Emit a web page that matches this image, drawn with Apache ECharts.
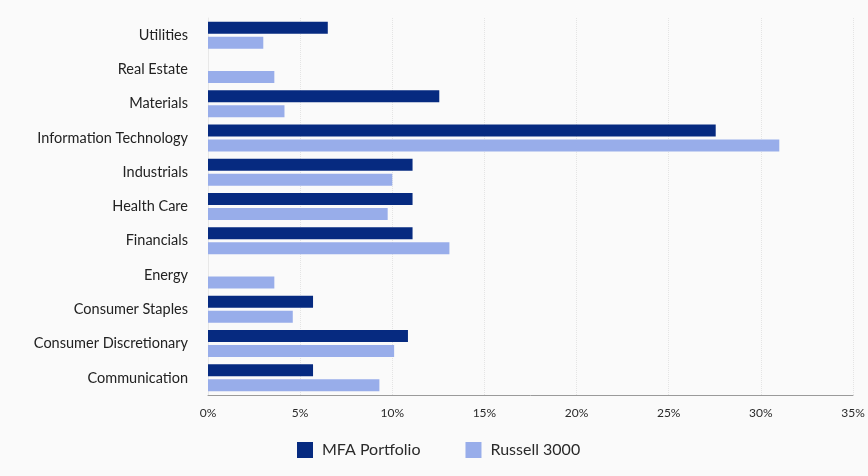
<!DOCTYPE html>
<html>
<head>
<meta charset="utf-8">
<script src="https://cdn.jsdelivr.net/npm/echarts@6/dist/echarts.min.js"></script>
<style>
  html, body { margin: 0; padding: 0; background: #fafafa; }
  #chart { width: 868px; height: 476px; }
</style>
</head>
<body>
<div id="chart"></div>
<script>
// sectors, top to bottom
const sectors = [
  "Utilities", "Real Estate", "Materials", "Information Technology",
  "Industrials", "Health Care", "Financials", "Energy",
  "Consumer Staples", "Consumer Discretionary", "Communication"
];
// weights in %
const mfaPortfolio = [6.5, 0, 12.55, 27.55, 11.1, 11.1, 11.1, 0, 5.7, 10.85, 5.7];
const russell3000 = [3.0, 3.6, 4.15, 31.0, 10.0, 9.75, 13.1, 3.6, 4.6, 10.1, 9.3];

const chart = echarts.init(document.getElementById("chart"));

chart.setOption({
  backgroundColor: "#fafafa",
  animation: false,
  textStyle: { fontFamily: "Lato" },
  grid: { left: 208, right: 15, top: 18, bottom: 81, containLabel: false },
  legend: {
    bottom: 13,
    left: 292,
    itemWidth: 16,
    itemHeight: 16,
    itemGap: 45,
    icon: "rect",
    textStyle: { color: "#2a2a2a", fontSize: 16, fontFamily: "Lato", padding: [0, 0, 0, 4] },
    data: ["MFA Portfolio", "Russell 3000"]
  },
  xAxis: {
    type: "value",
    min: 0,
    max: 35,
    interval: 5,
    axisLine: { show: true, lineStyle: { color: "#9a9a9a", width: 1 } },
    axisTick: { show: false },
    axisLabel: { color: "#2a2a2a", fontSize: 12, margin: 12, formatter: "{value}%" },
    splitLine: { show: true, lineStyle: { color: "#e4e4e4", type: "dotted" } }
  },
  yAxis: {
    type: "category",
    inverse: true,
    data: sectors,
    axisLine: { show: true, lineStyle: { color: "#e8e8e8" } },
    axisTick: { show: false },
    axisLabel: { color: "#222", fontSize: 14.5, margin: 20 }
  },
  series: [
    {
      name: "MFA Portfolio",
      type: "bar",
      data: mfaPortfolio,
      barWidth: 12,
      barGap: "25%",
      itemStyle: { color: "#062a80" }
    },
    {
      name: "Russell 3000",
      type: "bar",
      data: russell3000,
      barWidth: 12,
      itemStyle: { color: "#98adea" }
    }
  ]
});
</script>
</body>
</html>
